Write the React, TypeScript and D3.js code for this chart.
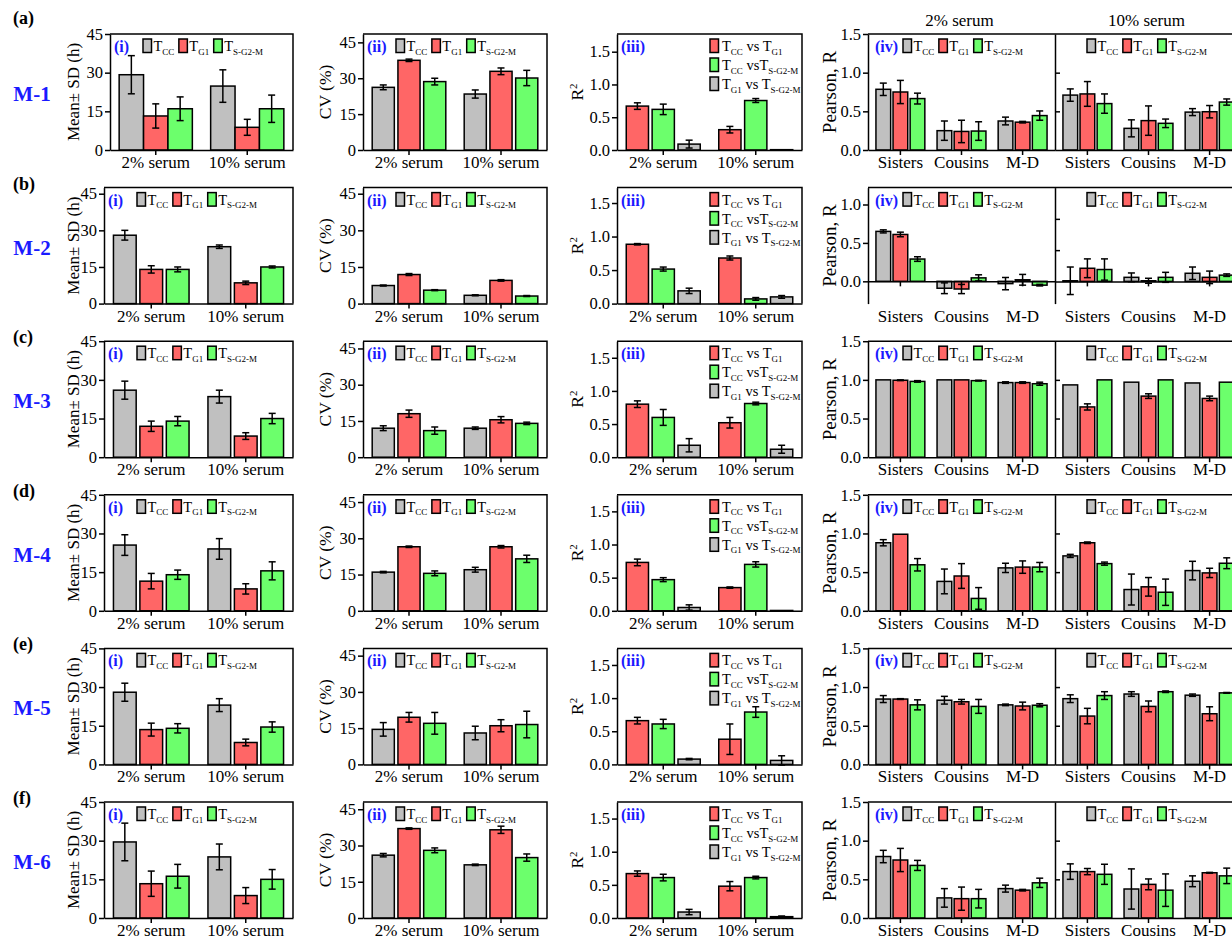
import React, { useRef, useEffect } from "react";
import * as d3 from "d3";

const FONT = "\"Liberation Serif\", \"Times New Roman\", \"DejaVu Serif\", serif";
const W = 1232;
const H = 939;

const rowTags = ["(a)", "(b)", "(c)", "(d)", "(e)", "(f)"];
const models = ["M-1", "M-2", "M-3", "M-4", "M-5", "M-6"];
const serumGroups = ["2% serum", "10% serum"];
const relations = ["Sisters", "Cousins", "M-D"];
const panelTags = ["(i)", "(ii)", "(iii)", "(iv)"];

// label parts: [text, 0 normal | 1 subscript | 2 superscript]
const tLabels = [
  [["T", 0], ["CC", 1]],
  [["T", 0], ["G1", 1]],
  [["T", 0], ["S-G2-M", 1]],
];
const r2Labels = [
  [["T", 0], ["CC", 1], [" vs T", 0], ["G1", 1]],
  [["T", 0], ["CC", 1], [" vsT", 0], ["S-G2-M", 1]],
  [["T", 0], ["G1", 1], [" vs T", 0], ["S-G2-M", 1]],
];

const GRAY = "#c0c0c0";
const RED = "#ff6666";
const GREEN = "#6cff6c";
const tColors = [GRAY, RED, GREEN];
const r2Colors = [RED, GREEN, GRAY];

// (i) mean ± SD (h): [model][serum][Tcc, Tg1, Ts-g2-m]
const meanVal = [
  [[29.2, 13.2, 16.0], [24.8, 8.8, 16.0]],
  [[28.0, 14.0, 14.0], [23.3, 8.5, 15.0]],
  [[26.0, 12.0, 14.0], [23.5, 8.2, 15.0]],
  [[25.5, 11.5, 14.0], [24.0, 8.5, 15.5]],
  [[28.0, 13.5, 14.0], [23.0, 8.5, 14.5]],
  [[29.5, 13.3, 16.2], [23.7, 8.7, 15.0]],
];
const meanErr = [
  [[7.4, 4.7, 4.6], [6.3, 3.1, 5.3]],
  [[2.0, 1.5, 1.0], [0.7, 0.7, 0.4]],
  [[3.5, 2.0, 1.8], [2.5, 1.3, 2.0]],
  [[4.0, 3.0, 1.8], [4.0, 2.0, 3.5]],
  [[3.5, 2.5, 1.8], [2.5, 1.3, 2.0]],
  [[7.3, 4.9, 4.6], [5.0, 3.1, 3.8]],
];

// (ii) CV (%)
const cvVal = [
  [[26.2, 37.5, 28.6], [23.4, 32.9, 30.1]],
  [[7.4, 11.9, 5.5], [3.4, 9.5, 3.1]],
  [[12.0, 18.0, 11.0], [12.0, 15.5, 14.0]],
  [[16.0, 26.5, 15.5], [17.0, 26.5, 21.5]],
  [[14.5, 19.5, 17.0], [13.0, 16.0, 16.5]],
  [[26.0, 37.0, 28.0], [22.0, 36.5, 25.0]],
];
const cvErr = [
  [[1.0, 0.5, 1.4], [1.7, 1.4, 3.2]],
  [[0.2, 0.4, 0.2], [0.2, 0.3, 0.2]],
  [[1.0, 1.5, 1.5], [0.5, 1.3, 0.5]],
  [[0.3, 0.3, 1.0], [1.0, 0.5, 1.5]],
  [[2.8, 2.0, 4.5], [2.8, 2.5, 5.5]],
  [[0.7, 0.3, 1.0], [0.3, 1.5, 1.5]],
];

// (iii) R^2: [Tcc vs Tg1, Tcc vs Ts-g2-m, Tg1 vs Ts-g2-m]
const r2Val = [
  [[0.67, 0.62, 0.09], [0.31, 0.755, 0.005]],
  [[0.885, 0.515, 0.19], [0.68, 0.07, 0.1]],
  [[0.8, 0.6, 0.18], [0.52, 0.81, 0.12]],
  [[0.73, 0.47, 0.05], [0.35, 0.7, 0.005]],
  [[0.66, 0.61, 0.08], [0.38, 0.79, 0.06]],
  [[0.67, 0.61, 0.09], [0.48, 0.61, 0.02]],
];
const r2Err = [
  [[0.05, 0.08, 0.06], [0.05, 0.03, 0]],
  [[0.01, 0.03, 0.04], [0.03, 0.02, 0.02]],
  [[0.05, 0.12, 0.1], [0.08, 0.02, 0.06]],
  [[0.05, 0.03, 0.04], [0.01, 0.04, 0]],
  [[0.05, 0.07, 0.01], [0.23, 0.08, 0.07]],
  [[0.04, 0.05, 0.04], [0.07, 0.02, 0.01]],
];

// (iv) Pearson R, 2% serum: [model][relation][Tcc, Tg1, Ts-g2-m]
const p2Val = [
  [[0.785, 0.75, 0.665], [0.25, 0.24, 0.245], [0.375, 0.36, 0.445]],
  [[0.65, 0.61, 0.29], [-0.09, -0.1, 0.045], [-0.03, 0.02, -0.05]],
  [[1.0, 0.995, 0.98], [1.0, 1.0, 0.99], [0.965, 0.965, 0.95]],
  [[0.88, 0.99, 0.595], [0.38, 0.45, 0.16], [0.555, 0.565, 0.565]],
  [[0.845, 0.845, 0.77], [0.83, 0.81, 0.75], [0.77, 0.755, 0.765]],
  [[0.795, 0.75, 0.68], [0.26, 0.25, 0.25], [0.38, 0.36, 0.455]],
];
const p2Err = [
  [[0.08, 0.15, 0.07], [0.125, 0.145, 0.12], [0.05, 0.01, 0.06]],
  [[0.02, 0.03, 0.03], [0.07, 0.06, 0.04], [0.08, 0.07, 0.01]],
  [[0, 0.005, 0.01], [0, 0, 0.005], [0.01, 0.01, 0.02]],
  [[0.04, 0, 0.08], [0.16, 0.16, 0.14], [0.06, 0.08, 0.06]],
  [[0.045, 0.005, 0.065], [0.05, 0.03, 0.09], [0.01, 0.05, 0.02]],
  [[0.08, 0.15, 0.065], [0.12, 0.15, 0.12], [0.045, 0.01, 0.06]],
];
// (iv) Pearson R, 10% serum
const p10Val = [
  [[0.71, 0.725, 0.6], [0.28, 0.38, 0.345], [0.49, 0.495, 0.62]],
  [[0.01, 0.21, 0.19], [0.065, 0.01, 0.065], [0.13, 0.065, 0.1]],
  [[0.935, 0.65, 1.0], [0.97, 0.79, 1.0], [0.96, 0.76, 0.97]],
  [[0.71, 0.88, 0.61], [0.275, 0.31, 0.24], [0.52, 0.49, 0.615]],
  [[0.85, 0.625, 0.89], [0.91, 0.75, 0.94], [0.895, 0.655, 0.925]],
  [[0.6, 0.6, 0.565], [0.375, 0.435, 0.36], [0.475, 0.585, 0.545]],
];
const p10Err = [
  [[0.08, 0.16, 0.125], [0.11, 0.19, 0.055], [0.045, 0.08, 0.04]],
  [[0.22, 0.15, 0.17], [0.07, 0.04, 0.08], [0.1, 0.1, 0.02]],
  [[0, 0.04, 0], [0, 0.03, 0], [0, 0.03, 0]],
  [[0.02, 0.01, 0.02], [0.2, 0.12, 0.17], [0.12, 0.06, 0.07]],
  [[0.05, 0.1, 0.05], [0.03, 0.07, 0.01], [0.015, 0.09, 0.005]],
  [[0.1, 0.04, 0.13], [0.26, 0.07, 0.21], [0.07, 0.005, 0.1]],
];

// axis ranges per row
const meanDomain = [[0, 45], [0, 47.5], [0, 45], [0, 45], [0, 45], [0, 45]];
const cvDomain = [[0, 48.5], [0, 47.5], [0, 48], [0, 48], [0, 48], [0, 48]];
const r2Domain = [[0, 1.77], [0, 1.73], [0, 1.75], [0, 1.75], [0, 1.75], [0, 1.75]];
const pLeftDomain = [[0, 1.5], [-0.29, 1.22], [0, 1.5], [0, 1.5], [0, 1.5], [0, 1.5]];
const pRightDomain = [[0, 1.5], [-0.355, 1.5], [0, 1.5], [0, 1.5], [0, 1.5], [0, 1.5]];

const ROW0 = 34;
const ROW_STEP = 153.6;
const PLOT_H = 116;
const TICK_FS = 16.5;
const LABEL_FS = 17;

function richText(g, x, y, parts, size, anchor = "start") {
  const t = g.append("text").attr("x", x).attr("y", y).attr("font-size", size)
    .attr("text-anchor", anchor).style("font-family", FONT);
  let shift = 0;
  parts.forEach(([s, kind]) => {
    const ts = t.append("tspan").text(s);
    const target = kind === 1 ? 3.5 : kind === 2 ? -6 : 0;
    if (target !== shift) ts.attr("dy", target - shift);
    if (kind) ts.attr("font-size", size * 0.62);
    shift = target;
  });
  return t;
}

function styleAxis(a, size = TICK_FS) {
  a.attr("font-family", null).style("font-family", FONT).attr("font-size", size);
  a.selectAll("path").attr("stroke", "#000").attr("stroke-width", 1.5);
  a.selectAll("line").attr("stroke", "#000").attr("stroke-width", 1.5);
  a.selectAll("text").attr("fill", "#000").style("font-family", FONT);
}

function drawBars(g, xg, groups, xs, y, vals, errs, colors) {
  groups.forEach((grp, gi) => {
    vals[gi].forEach((v, si) => {
      const bx = xg(grp) + xs(si);
      const bw = xs.bandwidth();
      g.append("rect")
        .attr("x", bx).attr("y", y(Math.max(v, 0)))
        .attr("width", bw).attr("height", Math.abs(y(v) - y(0)))
        .attr("fill", colors[si]).attr("stroke", "#000").attr("stroke-width", 1.5);
      const e = errs[gi][si];
      if (e > 0) {
        const cx = bx + bw / 2;
        const y1 = y(v - e), y2 = y(v + e);
        g.append("line").attr("x1", cx).attr("x2", cx).attr("y1", y1).attr("y2", y2)
          .attr("stroke", "#000").attr("stroke-width", 1.5);
        [y1, y2].forEach(yy => g.append("line").attr("x1", cx - 3.5).attr("x2", cx + 3.5)
          .attr("y1", yy).attr("y2", yy).attr("stroke", "#000").attr("stroke-width", 1.5));
      }
    });
  });
}

function legendRow(g, x, y, labels, colors) {
  let cx = x;
  labels.forEach((parts, i) => {
    g.append("rect").attr("x", cx).attr("y", y).attr("width", 8.5).attr("height", 13.5)
      .attr("fill", colors[i]).attr("stroke", "#000").attr("stroke-width", 1.5);
    const t = richText(g, cx + 10.5, y + 12, parts, 14.5);
    const w = (t.node() as SVGTextElement).getComputedTextLength();
    cx += 10.5 + w + 4.5;
  });
}

function panelTag(g, x, y, s) {
  g.append("text").attr("x", x).attr("y", y).attr("font-size", 16).attr("font-weight", "bold")
    .attr("fill", "#1a1aff").style("font-family", FONT).text(s);
}

function plainText(g, x, y, s, size, anchor = "middle") {
  return g.append("text").attr("x", x).attr("y", y).attr("text-anchor", anchor)
    .attr("font-size", size).style("font-family", FONT).text(s);
}

function groupedPanel(svg, o) {
  const g = svg.append("g");
  const y = d3.scaleLinear().domain(o.domain).range([o.bottom, o.top]);
  const xg = d3.scaleBand().domain(serumGroups).range([o.x0, o.x1]).paddingInner(0.2).paddingOuter(0.1);
  const xs = d3.scaleBand().domain([0, 1, 2]).range([0, xg.bandwidth()]).paddingInner(o.padS);
  drawBars(g, xg, serumGroups, xs, y, o.vals, o.errs, o.colors);

  const ya = g.append("g").attr("transform", `translate(${o.x0},0)`)
    .call(d3.axisLeft(y).tickValues(o.ticks).tickFormat(o.fmt).tickSize(5).tickSizeOuter(0).tickPadding(2));
  styleAxis(ya);
  const xa = g.append("g").attr("transform", `translate(0,${y(0)})`)
    .call(d3.axisBottom(xg).tickSize(5).tickSizeOuter(0).tickFormat(() => ""));
  styleAxis(xa);
  serumGroups.forEach(s => plainText(g, xg(s) + xg.bandwidth() / 2, o.bottom + 18, s, LABEL_FS));
  g.append("path").attr("d", `M${o.x0},${o.top}H${o.x1}V${o.bottom}`).attr("fill", "none")
    .attr("stroke", "#000").attr("stroke-width", 1.5);

  panelTag(g, o.x0 + 4, o.top + 18, o.tag);
  if (o.legend === "row") legendRow(g, o.x0 + 33, o.top + 5, tLabels, tColors);
  else {
    r2Labels.forEach((parts, i) => {
      const ly = o.top + 5 + i * 19;
      g.append("rect").attr("x", o.x1 - 92).attr("y", ly).attr("width", 8.5).attr("height", 13.5)
        .attr("fill", r2Colors[i]).attr("stroke", "#000").attr("stroke-width", 1.5);
      richText(g, o.x1 - 80, ly + 12, parts, 14.5);
    });
  }
  // y title
  const ty = (o.top + o.bottom) / 2;
  const title = richText(g, 0, 0, o.title, o.titleFs, "middle");
  title.attr("transform", `translate(${o.titleX},${ty}) rotate(-90)`);
}

function pearsonPanel(svg, r, top, bottom) {
  const g = svg.append("g");
  const halves = [
    { x0: 868, x1: 1055, dom: pLeftDomain[r], vals: p2Val[r], errs: p2Err[r] },
    { x0: 1055, x1: 1242, dom: pRightDomain[r], vals: p10Val[r], errs: p10Err[r] },
  ];
  halves.forEach((h, hi) => {
    const y = d3.scaleLinear().domain(h.dom).range([bottom, top]);
    const xg = d3.scaleBand().domain(relations).range([h.x0, h.x1]).paddingInner(0.2).paddingOuter(0.13);
    const xs = d3.scaleBand().domain([0, 1, 2]).range([0, xg.bandwidth()]).paddingInner(0.14);
    drawBars(g, xg, relations, xs, y, h.vals, h.errs, tColors);
    const ticks = [0, 0.5, 1.0, 1.5].filter(t => t <= h.dom[1] + 1e-9);
    const axis = hi === 0
      ? d3.axisLeft(y).tickValues(ticks).tickFormat(d3.format(".1f")).tickSize(5).tickSizeOuter(0).tickPadding(2)
      : d3.axisRight(y).tickValues([0.5, 1.0]).tickFormat(() => "").tickSize(5).tickSizeOuter(0);
    const ya = g.append("g").attr("transform", `translate(${h.x0},0)`).call(axis);
    styleAxis(ya);
    const xa = g.append("g").attr("transform", `translate(0,${y(0)})`)
      .call(d3.axisBottom(xg).tickSize(5).tickSizeOuter(0).tickFormat(() => ""));
    styleAxis(xa);
    relations.forEach(s => plainText(g, xg(s) + xg.bandwidth() / 2, bottom + 18, s, LABEL_FS));
    legendRow(g, h.x0 + (hi === 0 ? 35 : 32), top + 5, tLabels, tColors);
    if (r === 0) plainText(g, (h.x0 + h.x1) / 2 - 2, top - 8, serumGroups[hi], LABEL_FS);
  });
  g.append("line").attr("x1", 868).attr("x2", 1242).attr("y1", top).attr("y2", top)
    .attr("stroke", "#000").attr("stroke-width", 1.5);
  panelTag(g, 875, top + 18, panelTags[3]);
  const title = plainText(g, 0, 0, "Pearson, R", 19);
  title.attr("transform", `translate(${836},${(top + bottom) / 2}) rotate(-90)`);
}

const App = () => {
  const ref = useRef<SVGSVGElement>(null);

  useEffect(() => {
    document.body.style.margin = "0";
    const svg = d3.select(ref.current);
    svg.selectAll("*").remove();
    svg.style("font-family", FONT);

    models.forEach((m, r) => {
      const top = ROW0 + r * ROW_STEP;
      const bottom = top + PLOT_H;

      plainText(svg, 13, r === 0 ? 24 : top + 2, rowTags[r], 18, "start").attr("font-weight", "bold");
      plainText(svg, 32, top + 67, m, 21).attr("font-weight", "bold").attr("fill", "#1a1aff");

      const fmt0 = d3.format("d");
      groupedPanel(svg, {
        x0: r === 0 ? 110 : 104, x1: 293, top, bottom, domain: meanDomain[r], ticks: [0, 15, 30, 45], fmt: fmt0,
        vals: meanVal[r], errs: meanErr[r], colors: tColors, padS: r === 0 ? 0 : 0.14,
        tag: panelTags[0], legend: "row", title: [["Mean\u00b1 SD (h)", 0]], titleX: 79, titleFs: 17,
      });
      groupedPanel(svg, {
        x0: 363, x1: 547, top, bottom, domain: cvDomain[r], ticks: [0, 15, 30, 45], fmt: fmt0,
        vals: cvVal[r], errs: cvErr[r], colors: tColors, padS: 0.14,
        tag: panelTags[1], legend: "row", title: [["CV (%)", 0]], titleX: 331, titleFs: 17.5,
      });
      groupedPanel(svg, {
        x0: 617, x1: 802, top, bottom, domain: r2Domain[r], ticks: [0, 0.5, 1.0, 1.5], fmt: d3.format(".1f"),
        vals: r2Val[r], errs: r2Err[r], colors: r2Colors, padS: 0.14,
        tag: panelTags[2], legend: "col", title: [["R", 0], ["2", 2]], titleX: 583, titleFs: 17.5,
      });
      pearsonPanel(svg, r, top, bottom);
    });
  }, []);

  return <svg ref={ref} width={W} height={H} style={{ display: "block", background: "#fff" }} />;
};

export default App;
